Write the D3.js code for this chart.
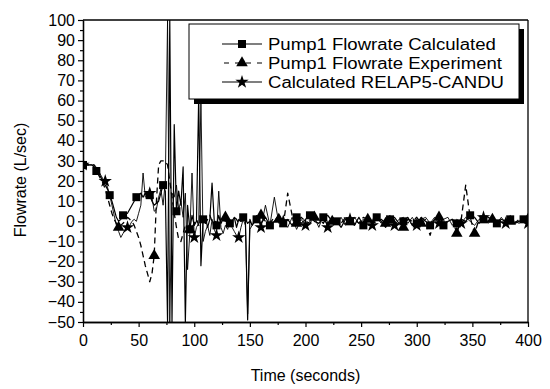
<!DOCTYPE html>
<html>
<head>
<meta charset="utf-8">
<script src="https://cdn.jsdelivr.net/npm/d3@7"></script>
<style>
  body { margin: 0; background: #fff; }
  text { font-family: Arial, "Liberation Sans", sans-serif; fill: #000; }
</style>
</head>
<body>
<svg id="chart" width="550" height="389"></svg>
<script>
// time grid: 2 s steps up to 150 s, 4 s steps after
const times = d3.range(0, 151, 2).concat(d3.range(152, 401, 4));

// Pump1 Flowrate Calculated (L/sec)
const calculated = [
  28, 28, 28, 28, 28, 27, 25, 24, 22, 20, 18, 16, 13, 10, 6, 2, 0, 1, 3, 4,
  4, 6, 8, 10, 12, 13, 14, 12, 14, 12, 13, 10, 8, 9, 10, 14, 18, 15, -50, 100,
  -50, 48, 5, 15, 8, 27, -50, 8, -4, 3, -2, 0, 62, -22, 1, 2, -3, 1, 19, 0,
  -2, 3, -1, 1, 0, 2, -1, 0, 2, -3, 1, 0, 2, 0, -49, 1,
  -2, 1, -1, 2, -2, 0, 3, -1, 1, -2, 2, -1, 1, 3, 0, -1, 2, -2, 1, 0,
  -3, 1, 0, -2, 2, -2, 1, -1, 2, 0, -3, 1, 2, -1, 0, 2, -2, -1, 2, 0,
  -2, 1, 3, -2, 0, 1, -1, 1, 0, 3, 2, -1, 1, 0, 2, -1, 1, 0, 1, -1,
  0, 1, -1
];

// Pump1 Flowrate Experiment (L/sec)
const experiment = [
  28, 28, 28, 28, 28, 28, 26, 23, 21, 19, 16, 12, 8, 4, 1, -1, -3, -2, -1, 0,
  2, 1, 0, -2, -5, -8, -12, -17, -22, -26, -30, -26, -17, 10, 28, 30, 30, 30, 28, 20,
  12, 4, -3, -9, -10, -6, -2, -5, -4, -3, -1, 1, -2, 0, 2, -1, 1, 3, 0, -2,
  1, 2, 0, -1, 2, 1, -1, 0, 2, 1, -1, 0, 2, 1, -1, 0,
  1, 2, 3, 0, -1, 2, 1, -2, 14, 3, -1, 2, 0, -1, 2, 1, -1, 3, 0, 1,
  -1, 2, 0, 1, -1, 2, 1, -1, 0, 1, -1, 2, 0, -2, -3, 1, 0, 2, -1, 1,
  -7, 1, 2, -1, 0, 1, -6, 1, 18, 2, -6, 1, 0, 2, 1, -1, 0, 1, 0, -1,
  1, 0, 1
];

// Calculated RELAP5-CANDU (L/sec)
const relap = [
  28, 28, 28, 28, 28, 28, 27, 25, 23, 21, 20, 17, 13, 8, 3, -2, -5, -8, -6, -4,
  -3, -2, 0, 1, 0, 4, 8, 24, 12, 13, 14, 12, 5, 6, 12, 16, 8, 20, 100, -50,
  14, 12, 18, 6, 10, 2, 14, -24, -6, 24, -8, -3, -1, 60, -10, -5, -2, -7, 1, -4,
  -7, 15, -3, -6, -2, -4, 0, -3, -5, -7, -8, -3, 1, -2, -46, -4,
  -2, 3, -3, 8, -2, 12, -1, 0, -3, 2, -4, 1, -2, 0, 2, -3, 3, -3, 1, -1,
  2, -2, 1, 2, -1, 1, -2, -2, 2, -1, 1, 3, -2, 1, 2, -1, 2, -2, 1, 2,
  -1, 2, -1, 1, 2, -2, 1, -1, 2, 0, -2, 1, 2, -1, 1, -1, 2, -1, 1, 0,
  -1, 1, -1
];

// times (s) at which each series shows its symbol
const squareAt = [0, 12, 24, 36, 48, 60, 72, 84, 96, 108, 120, 132, 144, 156, 168, 180, 192, 204,
  216, 228, 240, 252, 264, 276, 288, 300, 312, 324, 336, 348, 360, 372, 384, 396];
const triangleAt = [32, 64, 96, 128, 160, 176, 192, 208, 224, 240, 256, 272, 288, 304, 320, 336,
  352, 368, 384, 400];
const starAt = [0, 20, 40, 60, 100, 120, 140, 160, 180, 200, 220, 240, 260, 280, 300, 320, 340,
  360, 380, 400];

const xTicks = [0, 50, 100, 150, 200, 250, 300, 350, 400];
const yTicks = [100, 90, 80, 70, 60, 50, 40, 30, 20, 10, 0, -10, -20, -30, -40, -50];

const series = [
  { name: "Pump1 Flowrate Calculated", values: calculated, symbol: d3.symbolSquare, size: 64, width: 1.2, dash: null, marks: squareAt },
  { name: "Pump1 Flowrate Experiment", values: experiment, symbol: d3.symbolTriangle, size: 58, width: 1.3, dash: "6,4", marks: triangleAt },
  { name: "Calculated RELAP5-CANDU", values: relap, symbol: d3.symbolStar, size: 55, width: 0.9, dash: null, marks: starAt }
];

const margin = { top: 20, right: 22, bottom: 67, left: 83 };
const width = 550 - margin.left - margin.right;
const height = 389 - margin.top - margin.bottom;

const svg = d3.select("#chart");
const g = svg.append("g").attr("transform", `translate(${margin.left},${margin.top})`);

const x = d3.scaleLinear().domain([0, 400]).range([0, width]);
const y = d3.scaleLinear().domain([-50, 100]).range([height, 0]);

g.append("clipPath").attr("id", "plot-clip")
  .append("rect").attr("width", width).attr("height", height);

const plot = g.append("g").attr("clip-path", "url(#plot-clip)");

const line = d3.line()
  .x((d, i) => x(times[i]))
  .y(d => y(d));

series.forEach(s => {
  plot.append("path")
    .datum(s.values)
    .attr("fill", "none")
    .attr("stroke", "#000")
    .attr("stroke-width", s.width)
    .attr("stroke-dasharray", s.dash)
    .attr("stroke-linejoin", "round")
    .attr("d", line);
});

series.forEach(s => {
  const pts = s.marks.map(t => ({ t, v: s.values[times.indexOf(t)] }));
  plot.selectAll(null)
    .data(pts)
    .join("path")
    .attr("d", d3.symbol().type(s.symbol).size(s.size))
    .attr("transform", d => `translate(${x(d.t)},${y(d.v)})`)
    .attr("fill", "#000");
});

// axes
g.append("g")
  .attr("transform", `translate(0,${height})`)
  .call(d3.axisBottom(x).tickValues(xTicks).tickSize(5).tickPadding(8).tickSizeOuter(0));
g.append("g")
  .attr("transform", `translate(0,${height})`)
  .call(d3.axisBottom(x).tickValues(d3.range(25, 400, 50)).tickSize(3).tickFormat("").tickSizeOuter(0));

g.append("g")
  .call(d3.axisLeft(y).tickValues(yTicks).tickSize(5).tickPadding(3).tickSizeOuter(0));
g.append("g")
  .call(d3.axisLeft(y).tickValues(d3.range(-45, 100, 10)).tickSize(3).tickFormat("").tickSizeOuter(0));

g.selectAll(".domain").attr("stroke", "#000").attr("stroke-width", 1.3);
g.selectAll(".tick line").attr("stroke", "#000").attr("stroke-width", 1.2);
g.selectAll(".tick text").attr("font-size", 16).attr("font-family", "Arial, 'Liberation Sans', sans-serif");

// frame top / right
g.append("line").attr("x1", 0).attr("x2", width).attr("y1", 0).attr("y2", 0)
  .attr("stroke", "#000").attr("stroke-width", 1.3);
g.append("line").attr("x1", width).attr("x2", width).attr("y1", 0).attr("y2", height)
  .attr("stroke", "#000").attr("stroke-width", 1.3);

// axis titles
svg.append("text")
  .attr("x", margin.left + width / 2).attr("y", 381)
  .attr("text-anchor", "middle").attr("font-size", 16)
  .text("Time (seconds)");
svg.append("text")
  .attr("transform", `translate(26,180) rotate(-90)`)
  .attr("text-anchor", "middle").attr("font-size", 16)
  .text("Flowrate (L/sec)");

// legend
const lg = svg.append("g").attr("transform", "translate(189,24)");
lg.append("rect").attr("x", 5).attr("y", 5).attr("width", 330).attr("height", 75).attr("fill", "#000");
lg.append("rect").attr("width", 330).attr("height", 75)
  .attr("fill", "#fff").attr("stroke", "#000").attr("stroke-width", 1);

series.forEach((s, i) => {
  const row = lg.append("g").attr("transform", `translate(0,${20 + i * 19})`);
  row.append("line").attr("x1", 33).attr("x2", 73).attr("y1", 0).attr("y2", 0)
    .attr("stroke", "#000").attr("stroke-width", 1.2)
    .attr("stroke-dasharray", s.dash ? "5,6" : null)
    .attr("stroke-dashoffset", s.dash ? -2 : null);
  row.append("path").attr("d", d3.symbol().type(s.symbol).size(s.size)).attr("transform", "translate(53,0)");
  row.append("text").attr("transform", "translate(79,6) scale(1.16,1)")
    .attr("font-size", 16).text(s.name);
});
</script>
</body>
</html>
